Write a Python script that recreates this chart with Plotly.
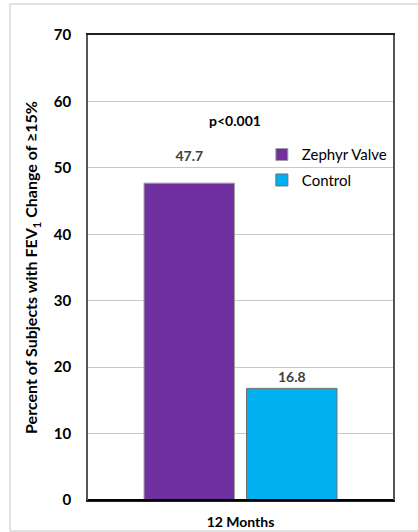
import plotly.graph_objects as go

categories = ["12 Months"]
groups = ["Zephyr Valve", "Control"]
values = [[47.7], [16.8]]
colors = ["#7030A0", "#00B0F0"]
edge_colors = ["#A0A0A0", "#707070"]
label_templates = ["%{y:.1f}<br><span style='font-size:7px'> </span>", "%{y:.1f}"]

fig = go.Figure()
for i in range(len(groups)):
    fig.add_trace(go.Bar(
        x=categories, y=values[i], name=groups[i],
        marker=dict(color=colors[i], line=dict(color=edge_colors[i], width=1)),
        texttemplate=label_templates[i], textposition="outside",
        textfont=dict(color="#404040", size=14, family="Lato", weight="bold"),
        cliponaxis=False, legendgroup=groups[i],
    ))

fig.add_annotation(x=0.483, xref="paper", y=57.1, yref="y", text="<b>p<0.001</b>",
                   showarrow=False, font=dict(size=14, color="black", family="Lato"))

# outer frame round the whole chart: left, top and bottom edges only,
# the right edge runs off the page
frame = dict(type="line", xref="paper", yref="paper", layer="below",
             line=dict(color="#D9D9D9", width=1.5))
x_left, x_right = (10 - 88) / 305, (418 - 88) / 305
y_bot, y_top = (500 - 531) / 465, (500 - 4) / 465
fig.add_shape(x0=x_left, x1=x_left, y0=y_bot, y1=y_top, **frame)
fig.add_shape(x0=x_left, x1=x_right, y0=y_top, y1=y_top, **frame)
fig.add_shape(x0=x_left, x1=x_right, y0=y_bot, y1=y_bot, **frame)

fig.update_layout(
    width=418, height=532,
    margin=dict(l=88, r=25, t=35, b=32),
    paper_bgcolor="white", plot_bgcolor="white",
    font=dict(family="Lato", color="black"),
    barmode="group", bargap=0.328, bargroupgap=0.117,
    showlegend=True,
    legend=dict(x=0.57, y=0.778, xanchor="left", yanchor="top",
                font=dict(size=15, family="Lato"), bgcolor="rgba(0,0,0,0)",
                traceorder="grouped", tracegroupgap=3),
    xaxis=dict(range=[-0.5, 0.5], showline=True, linecolor="#202020", linewidth=1.5, mirror=True,
               ticks="", ticklabelstandoff=8, automargin=False,
               tickfont=dict(size=14, family="Lato", weight="bold")),
    yaxis=dict(range=[0, 70], dtick=10, showgrid=True, gridcolor="#C8C8C8",
               showline=True, linecolor="#555555", linewidth=1.5, mirror=True,
               zeroline=False, ticks="", ticklabelstandoff=12, automargin=False,
               tickfont=dict(size=15, family="Lato", weight="bold"),
               title=dict(text="<b>Percent of Subjects with FEV<sub>1</sub> Change of ≥15%</b>",
                          font=dict(size=16, family="Lato"), standoff=12)),
)
fig.add_shape(type="line", xref="paper", yref="paper", x0=0, x1=1, y0=0, y1=0,
              line=dict(color="black", width=2))

# drop the page's default margin and scrollbars so the figure fills the window
fig.write_html("out.html", config={"displayModeBar": False},
               post_script="document.body.style.margin='0';"
                           "document.body.style.overflow='hidden';"
                           "document.documentElement.style.overflow='hidden';")
